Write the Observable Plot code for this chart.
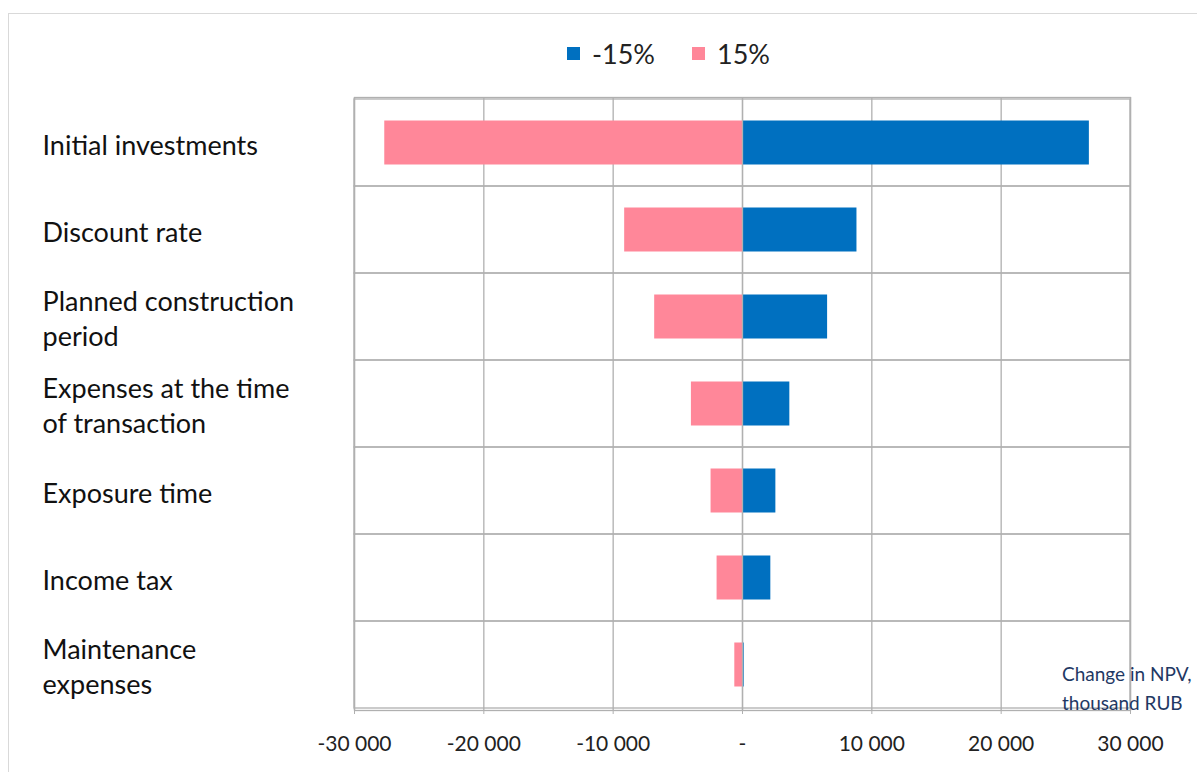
<!DOCTYPE html>
<html>
<head>
<meta charset="utf-8">
<script src="https://cdn.jsdelivr.net/npm/d3@7"></script>
<script src="https://cdn.jsdelivr.net/npm/@observablehq/plot@0.6"></script>
<style>
  html, body { margin: 0; padding: 0; background: #fff; }
  body { width: 1197px; height: 772px; overflow: hidden; position: relative; font-family: Lato, "Open Sans", sans-serif; }
  #frame { position: absolute; left: 8px; top: 13px; width: 1300px; height: 900px; border: 1px solid #d9d9d9; box-sizing: border-box; }
  #legend { position: absolute; top: 38px; left: 567px; height: 30px; display: flex; align-items: center; font-size: 27px; color: #222; }
  #legend .sw { width: 13px; height: 13px; display: inline-block; margin-right: 12px; }
  #legend .item { display: flex; align-items: center; margin-right: 37px; }
  #chart { position: absolute; left: 0; top: 80px; }
  #note { position: absolute; left: 1062px; top: 659px; font-size: 19px; line-height: 29px; color: #1f3864; white-space: nowrap; }
</style>
</head>
<body>
<div id="frame"></div>
<div id="legend"></div>
<div id="chart"></div>
<div id="note">Change in NPV,<br>thousand RUB</div>
<script>
const categories = [
  "Initial investments",
  "Discount rate",
  "Planned construction\nperiod",
  "Expenses at the time\nof transaction",
  "Exposure time",
  "Income tax",
  "Maintenance\nexpenses"
];
const minus15 = [26820, 8850, 6580, 3660, 2580, 2190, 130];
const plus15 = [-27660, -9110, -6790, -3950, -2430, -1965, -595];
const seriesNames = ["-15%", "15%"];
const seriesColors = ["#0070C0", "#FF8799"];
const xTicks = [-30000, -20000, -10000, 0, 10000, 20000, 30000];

const rows = [];
categories.forEach((c, i) => {
  rows.push({category: c, series: seriesNames[0], value: minus15[i]});
  rows.push({category: c, series: seriesNames[1], value: plus15[i]});
});

// legend
const legend = document.getElementById("legend");
seriesNames.forEach((s, i) => {
  const it = document.createElement("div");
  it.className = "item";
  it.innerHTML = `<span class="sw" style="background:${seriesColors[i]}"></span><span>${s}</span>`;
  legend.appendChild(it);
});

const fmt = v => v === 0 ? "-" : d3.format(",")(v).replace(/,/g, " ").replace("\u2212", "-");
const grid = "#b0b0b0";

const plot = Plot.plot({
  width: 1197,
  height: 692,
  marginLeft: 354,
  marginRight: 67,
  marginTop: 17,
  marginBottom: 62,
  style: {fontFamily: "Lato, 'Open Sans', sans-serif", background: "transparent"},
  x: {domain: [-30000, 30000], ticks: xTicks, tickFormat: fmt, label: null},
  y: {domain: categories, padding: 0, label: null, axis: null},
  color: {domain: seriesNames, range: seriesColors},
  marks: [
    Plot.ruleX(xTicks, {stroke: grid, strokeWidth: 1.3}),
    Plot.barX(categories, {x1: -30000, x2: 30000, y: d => d, fill: "none", stroke: grid, strokeWidth: 1.3}),
    Plot.frame({stroke: grid, strokeWidth: 1.3}),
    Plot.barX(rows, {x: "value", y: "category", fill: "series", insetTop: 21.5, insetBottom: 21.5}),
    Plot.ruleX([0], {stroke: grid, strokeWidth: 1.3}),
    Plot.axisX({ticks: xTicks, tickFormat: fmt, tickSize: 4, stroke: grid, tickPadding: 22, fontSize: 21, fill: "#222", label: null}),
    Plot.text(categories, {y: d => d, text: d => d, frameAnchor: "left", textAnchor: "start", dx: -312, fontSize: 27, lineHeight: 1.33, fill: "#111"})
  ]
});
document.getElementById("chart").appendChild(plot);
</script>
</body>
</html>
